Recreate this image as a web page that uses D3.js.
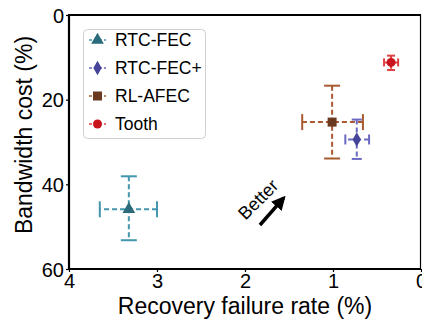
<!DOCTYPE html>
<html>
<head>
<meta charset="utf-8">
<script src="https://cdn.jsdelivr.net/npm/d3@7"></script>
<style>
  body { margin: 0; background: #fff; }
  text { font-family: "Liberation Sans", Arial, sans-serif; }
</style>
</head>
<body>
<div id="chart"></div>
<script>
// series, in legend order
const series = ["RTC-FEC", "RTC-FEC+", "RL-AFEC", "Tooth"];
// recovery failure rate (%) : point, lower and upper error bounds
const xVal = [3.32, 0.73, 1.01, 0.34];
const xLow = [3.00, 0.59, 0.66, 0.26];
const xHigh = [3.65, 0.86, 1.35, 0.42];
// bandwidth cost (%)
const yVal = [45.9, 29.4, 25.3, 11.2];
const yLow = [38.1, 24.7, 16.7, 9.6];
const yHigh = [53.2, 34.0, 33.9, 13.0];
const xTicks = [4, 3, 2, 1, 0];
const yTicks = [0, 20, 40, 60];

const markerColor = ["#2b6b7b", "#46449a", "#6b3820", "#c8141c"];
const barColor = ["#4396ae", "#6a6ac0", "#a85a30", "#e0403f"];
const symbols = [d3.symbolTriangle, d3.symbolDiamond, d3.symbolSquare, d3.symbolCircle];
const symSize = [70, 60, 81, 64];
const capSize = [16, 10, 16, 8];
const drawOrder = [0, 2, 1, 3];

const width = 422, height = 325;
const margin = { top: 15, right: 1, bottom: 56, left: 69 };

const svg = d3.select("#chart").append("svg")
  .attr("width", width)
  .attr("height", height);

const x = d3.scaleLinear().domain([4, 0]).range([margin.left, width - margin.right]);
const y = d3.scaleLinear().domain([0, 60]).range([margin.top, height - margin.bottom]);

// error bars + markers
drawOrder.forEach(i => {
  const g = svg.append("g");
  const cx = x(xVal[i]), cy = y(yVal[i]);
  const cap = capSize[i] / 2;
  g.append("line")
    .attr("x1", x(xLow[i])).attr("x2", x(xHigh[i]))
    .attr("y1", cy).attr("y2", cy);
  g.append("line")
    .attr("x1", cx).attr("x2", cx)
    .attr("y1", y(yLow[i])).attr("y2", y(yHigh[i]));
  g.selectAll("line")
    .attr("stroke", barColor[i])
    .attr("stroke-width", 2)
    .attr("stroke-dasharray", "5,3");
  [xLow[i], xHigh[i]].forEach(v => {
    g.append("line")
      .attr("x1", x(v)).attr("x2", x(v))
      .attr("y1", cy - cap).attr("y2", cy + cap)
      .attr("stroke", barColor[i]).attr("stroke-width", 2);
  });
  [yLow[i], yHigh[i]].forEach(v => {
    g.append("line")
      .attr("x1", cx - cap).attr("x2", cx + cap)
      .attr("y1", y(v)).attr("y2", y(v))
      .attr("stroke", barColor[i]).attr("stroke-width", 2);
  });
  g.append("path")
    .attr("d", d3.symbol(symbols[i], symSize[i])())
    .attr("transform", `translate(${cx},${cy})`)
    .attr("fill", markerColor[i]);
});

// axes
const xAxis = svg.append("g")
  .attr("transform", `translate(0,${height - margin.bottom})`)
  .call(d3.axisBottom(x).tickValues(xTicks).tickFormat(d3.format("d")).tickSize(3).tickSizeOuter(0));
const yAxis = svg.append("g")
  .attr("transform", `translate(${margin.left},0)`)
  .call(d3.axisLeft(y).tickValues(yTicks).tickSize(3).tickSizeOuter(0));
[xAxis, yAxis].forEach(a => {
  a.select(".domain").remove();
  a.selectAll(".tick line").attr("stroke", "#000").attr("stroke-width", 1.2);
  a.selectAll(".tick text").attr("font-size", 20).attr("fill", "#000")
    .attr("font-family", "Liberation Sans, Arial, sans-serif");
});
xAxis.selectAll(".tick text").attr("dy", "0.75em").attr("y", 4);
yAxis.selectAll(".tick text").attr("x", -5).attr("dy", "0.36em");

// spines
const x0 = margin.left, x1 = width - margin.right, y0 = margin.top, y1 = height - margin.bottom;
svg.append("line").attr("x1", x0).attr("x2", x1).attr("y1", y0).attr("y2", y0)
  .attr("stroke", "#000").attr("stroke-width", 2.2);
svg.append("line").attr("x1", x0).attr("x2", x1).attr("y1", y1).attr("y2", y1)
  .attr("stroke", "#000").attr("stroke-width", 2.2);
svg.append("line").attr("x1", x0).attr("x2", x0).attr("y1", y0 - 1).attr("y2", y1 + 1)
  .attr("stroke", "#000").attr("stroke-width", 2.2);
svg.append("line").attr("x1", x1 - 0.5).attr("x2", x1 - 0.5).attr("y1", y0).attr("y2", y1)
  .attr("stroke", "#000").attr("stroke-width", 1.2);

// axis labels
svg.append("text")
  .attr("x", (x0 + x1) / 2).attr("y", 314)
  .attr("text-anchor", "middle").attr("font-size", 23)
  .text("Recovery failure rate (%)");
svg.append("text")
  .attr("transform", `translate(32,${(y0 + y1) / 2 - 7}) rotate(-90)`)
  .attr("text-anchor", "middle").attr("font-size", 23)
  .text("Bandwidth cost (%)");

// "Better" annotation
const arrowFrom = [1.83, 49.6], arrowTo = [1.56, 43.2];
svg.append("defs").append("marker")
  .attr("id", "head").attr("viewBox", "0 0 10 10")
  .attr("refX", 8).attr("refY", 5)
  .attr("markerWidth", 4).attr("markerHeight", 4)
  .attr("orient", "auto")
  .append("path").attr("d", "M0,0L10,5L0,10z").attr("fill", "#000");
svg.append("line")
  .attr("x1", x(arrowFrom[0])).attr("y1", y(arrowFrom[1]))
  .attr("x2", x(arrowTo[0])).attr("y2", y(arrowTo[1]))
  .attr("stroke", "#000").attr("stroke-width", 3.5)
  .attr("marker-end", "url(#head)");
svg.append("text")
  .attr("transform", `translate(${x(1.80)},${y(44.6)}) rotate(-45)`)
  .attr("text-anchor", "middle").attr("font-size", 18)
  .text("Better");

// legend
const legend = svg.append("g").attr("transform", "translate(83,29)");
legend.append("rect")
  .attr("x", 0.5).attr("y", 0.5).attr("width", 122).attr("height", 109)
  .attr("rx", 4).attr("fill", "#fff").attr("stroke", "#d0d0d0");
series.forEach((name, i) => {
  const ly = 11 + i * 28;
  const row = legend.append("g").attr("transform", `translate(0,${ly})`);
  row.append("line")
    .attr("x1", 6).attr("x2", 23).attr("y1", 0).attr("y2", 0)
    .attr("stroke", barColor[i]).attr("stroke-width", 1.5)
    .attr("stroke-dasharray", "3,2");
  row.append("path")
    .attr("d", d3.symbol(symbols[i], symSize[i])())
    .attr("transform", "translate(14.5,0)")
    .attr("fill", markerColor[i]);
  row.append("text")
    .attr("x", 32).attr("y", 0).attr("dy", "0.36em")
    .attr("font-size", 17.5)
    .text(name);
});
</script>
</body>
</html>
